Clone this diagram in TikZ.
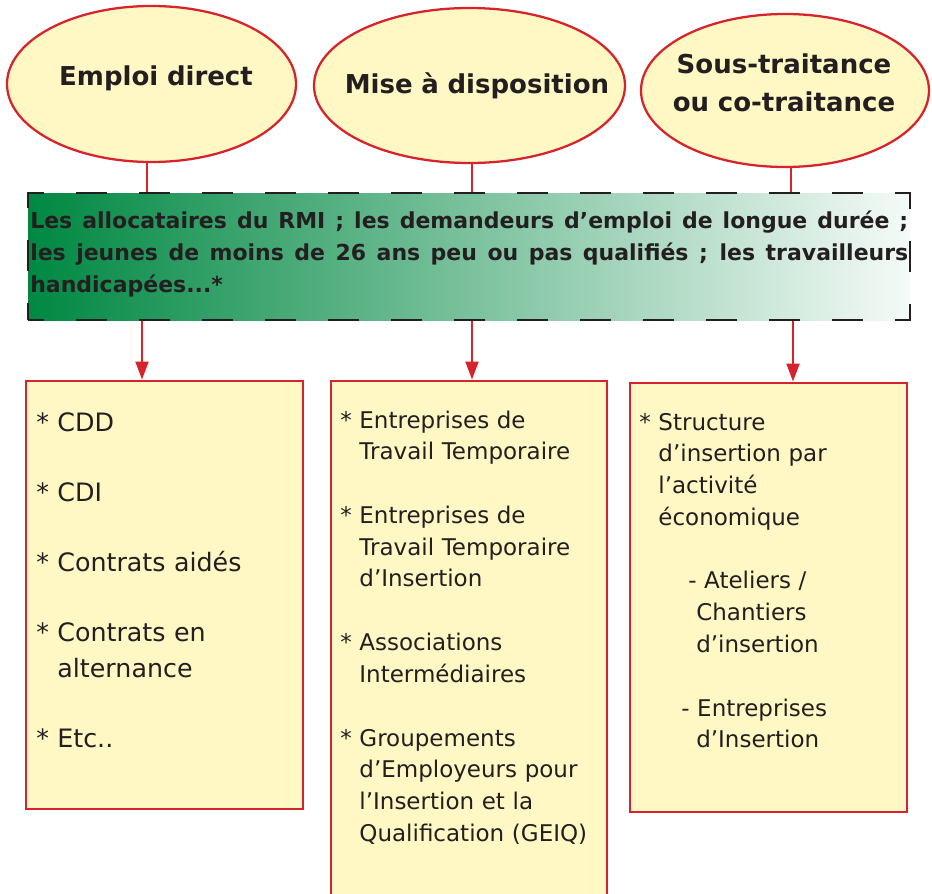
\documentclass[tikz,border=0pt]{standalone}
\usepackage{fontspec}
\setmainfont{DejaVu Sans}
\usepackage{tikz}
\usetikzlibrary{arrows.meta,shapes.geometric}
\definecolor{rougeTrait}{RGB}{214,35,44}
\definecolor{jaunePale}{RGB}{255,248,196}
\definecolor{vertFonce}{RGB}{0,136,66}
\definecolor{encre}{RGB}{35,31,32}

\begin{document}
\begin{tikzpicture}[x=0.75pt,y=0.75pt,yscale=-1,xscale=1,
  bulle/.style={ellipse,draw=rougeTrait,line width=1.7pt,fill=jaunePale,inner sep=0pt},
  titre/.style={anchor=base,inner sep=0pt,text=encre,text width=250pt,align=center,font=\bfseries\fontsize{19.5}{29}\selectfont},
  cadre/.style={rectangle,draw=rougeTrait,line width=2.2pt,fill=jaunePale,inner sep=0pt},
  liste/.style={anchor=base west,inner sep=0pt,text=encre,text width=200pt,align=left,font=\fontsize{17.25}{23.8}\selectfont},
  trait/.style={draw=rougeTrait,line width=1.5pt},
  fleche/.style={trait,-{Triangle[width=9.75pt,length=13.5pt]}}]
\useasboundingbox (0,0) rectangle (932,893);

%Shape: Ellipse
\node[bulle,minimum width=216.75pt,minimum height=117pt] (e1) at (151.5,84) {};
%Shape: Ellipse
\node[bulle,minimum width=233.25pt,minimum height=116.25pt] (e2) at (469.5,85.5) {};
%Shape: Ellipse
\node[bulle,minimum width=216pt,minimum height=114.75pt] (e3) at (785,90.5) {};
% Text Node
\node[titre] (n1) at (156,85) {Emploi direct};
% Text Node
\node[titre] (n2) at (477,93) {Mise à disposition};
% Text Node
\node[titre] (n3) at (784,73) {Sous-traitance\\ou co-traitance};

%Shape: Rectangle (public)
\node[rectangle,inner sep=0pt,minimum width=661.5pt,minimum height=95.25pt,
  left color=vertFonce,right color=white!96!vertFonce,
  draw=encre,line width=2.1pt,dash pattern=on 23.25pt off 24pt,dash phase=11.6pt] (grp) at (469,256.5) {};
% Text Node
\node[anchor=base west,inner sep=0pt,text=encre,text width=658.5pt,align=justify,
  font=\bfseries\fontsize{16.5}{24}\selectfont] (pub) at (30,228)
  {Les allocataires du RMI ; les demandeurs d’emploi de longue durée ;\linebreak
   les jeunes de moins de 26 ans peu ou pas qualifiés ; les travailleurs\linebreak
   handicapées...*};

%Shape: Rectangle
\node[cadre,minimum width=207.75pt,minimum height=321pt] (b1) at (164.5,595) {};
%Shape: Rectangle
\node[cadre,minimum width=207pt,minimum height=393pt] (b2) at (469,643) {};
%Shape: Rectangle
\node[cadre,minimum width=207.75pt,minimum height=321.75pt] (b3) at (768.5,597.5) {};

% Text Node
\node[liste,font=\fontsize{19}{27}\selectfont] (t1) at (36,431)
  {* CDD\\[25.5pt]
   * CDI\\[25.5pt]
   * Contrats aidés\\[25.5pt]
   * Contrats en\\
   \hphantom{* }alternance\\[25.5pt]
   * Etc..};
% Text Node
\node[liste] (t2) at (340,428)
  {* Entreprises de\\
   \hphantom{* }Travail Temporaire\\[24pt]
   * Entreprises de\\
   \hphantom{* }Travail Temporaire\\
   \hphantom{* }d’Insertion\\[24pt]
   * Associations\\
   \hphantom{* }Intermédiaires\\[24pt]
   * Groupements\\
   \hphantom{* }d’Employeurs pour\\
   \hphantom{* }l’Insertion et la\\
   \hphantom{* }Qualification (GEIQ)};
% Text Node
\node[liste] (t3) at (639,430)
  {* Structure\\
   \hphantom{* }d’insertion par\\
   \hphantom{* }l’activité\\
   \hphantom{* }économique\\[24pt]
   \hspace*{36.75pt}- Ateliers /\\
   \hspace*{42.75pt}Chantiers\\
   \hspace*{42.75pt}d’insertion\\[24pt]
   \hspace*{31.5pt}- Entreprises\\
   \hspace*{42.75pt}d’Insertion};

%Straight Lines
\coordinate (h1) at (147,0);
\coordinate (h2) at (472,0);
\coordinate (h3) at (791,0);
\coordinate (v1) at (142,0);
\coordinate (v2) at (472,0);
\coordinate (v3) at (793,0);
\draw[trait] (e1.south -| h1) -- (grp.north -| h1);
\draw[trait] (e2.south -| h2) -- (grp.north -| h2);
\draw[trait] (e3.south -| h3) -- (grp.north -| h3);
\draw[fleche] (grp.south -| v1) -- (b1.north -| v1);
\draw[fleche] (grp.south -| v2) -- (b2.north -| v2);
\draw[fleche] (grp.south -| v3) -- (b3.north -| v3);

\end{tikzpicture}
\end{document}
